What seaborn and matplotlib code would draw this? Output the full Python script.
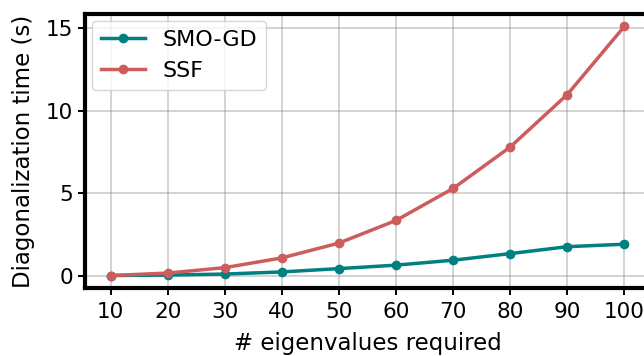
import numpy as np
import pandas as pd
import matplotlib
matplotlib.use("Agg")
import matplotlib.pyplot as plt
import seaborn as sns

# eigenvalue counts and measured diagonalization times (s)
eigenvalues = [10, 20, 30, 40, 50, 60, 70, 80, 90, 100]
smo_gd = [0.0, 0.03, 0.09, 0.22, 0.42, 0.63, 0.93, 1.33, 1.75, 1.9]
ssf = [0.0, 0.15, 0.48, 1.07, 1.97, 3.34, 5.28, 7.79, 10.97, 15.1]
methods = ["SMO-GD", "SSF"]
colors = ["#008080", "#cd5c5c"]

df = pd.DataFrame({
    "k": eigenvalues * 2,
    "time": smo_gd + ssf,
    "method": [methods[0]] * len(eigenvalues) + [methods[1]] * len(eigenvalues),
})

plt.rcParams["font.family"] = ["DejaVu Sans"]
fig = plt.figure(figsize=(6.44, 3.56), dpi=100)
ax = fig.add_axes([85 / 644, 68 / 356, 565 / 644, 274 / 356])

sns.lineplot(data=df, x="k", y="time", hue="method", palette=colors,
             marker="o", markersize=7, markeredgewidth=0, linewidth=2.5,
             ax=ax)

ax.set_xticks(eigenvalues)
ax.set_yticks([0, 5, 10, 15])
ax.tick_params(labelsize=15.5, width=1.4, length=5)
ax.tick_params(axis="x", pad=5)
ax.set_xlabel("# eigenvalues required", fontsize=16.5, labelpad=7)
ax.set_ylabel("Diagonalization time (s)", fontsize=16.5, labelpad=7.5)
ax.grid(True, color="gray", alpha=0.4, linewidth=1.2)
ax.set_axisbelow(True)
for side in ax.spines.values():
    side.set_linewidth(3)
    side.set_color("black")

ax.legend(loc="upper left", fontsize=16, borderaxespad=0.3)

fig.savefig("out.png", dpi=100)
